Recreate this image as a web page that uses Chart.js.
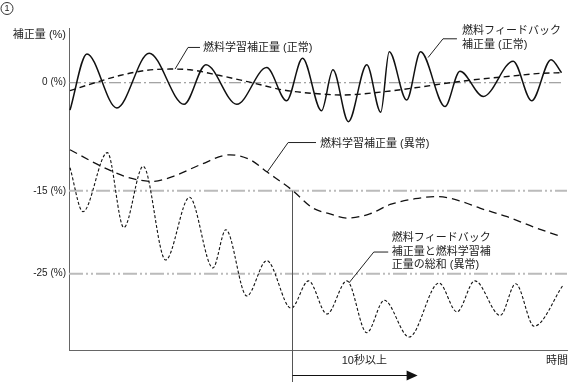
<!DOCTYPE html>
<html>
<head>
<meta charset="utf-8">
<script src="https://cdn.jsdelivr.net/npm/chart.js@4.4.1/dist/chart.umd.min.js"></script>
<style>
  html, body { margin: 0; padding: 0; background: #fff; }
  #wrap { width: 569px; height: 383px; }
</style>
</head>
<body>
<div id="wrap"><canvas id="chart"></canvas></div>
<script>
/* --------------- Data (time = schematic units, value = schematic %) --------------- */
// 燃料フィードバック補正量 (正常)
const fbNormalT = [0.2, 3.6, 9.6, 16.1, 23.1, 27.5, 33.7, 39.7, 43.7, 46.9, 50.7, 53.0, 56.1, 59.8, 62.6, 64.3, 67.8, 70.6, 75.5, 78.5, 83.2, 89.2, 92.9, 96.8, 98.9];
const fbNormalV = [-3.8, 4.0, -3.5, 4.1, -3.0, 2.5, -3.0, 2.1, -2.5, 3.4, -3.9, 1.8, -5.4, 2.5, -4.1, 4.3, -2.4, 4.3, -3.3, 1.6, -1.9, 3.0, -2.5, 3.2, 1.4];

// 燃料学習補正量 (正常)
const learnNormalT = [0.2, 5.2, 10.2, 15.3, 20.3, 24.3, 30.3, 36.8, 43.0, 49.4, 55.0, 62.5, 69.5, 76.5, 82.5, 88.6, 94.6, 99.0];
const learnNormalV = [-1.1, 0, 1.0, 1.7, 1.9, 1.8, 1.0, 0, -1.0, -1.5, -1.7, -1.3, -0.7, 0, 0.5, 0.9, 1.3, 1.4];

// 燃料学習補正量 (異常)
const learnAbnT = [0.2, 6.2, 11.7, 16.7, 21.3, 26.3, 32.3, 36.4, 39.8, 44.8, 49.0, 52.4, 55.8, 60.4, 64.5, 69.5, 73.9, 78.5, 82.5, 88.0, 93.2, 99.0];
const learnAbnV = [-9.3, -11.5, -13.1, -13.7, -12.9, -11.4, -10.0, -10.7, -12.4, -14.9, -17.4, -18.2, -18.8, -18.2, -16.9, -16.1, -15.8, -16.4, -17.4, -18.6, -20.0, -21.4];

// 燃料フィードバック補正量と燃料学習補正量の総和 (異常)
const sumAbnT = [0.2, 2.8, 7.7, 11.0, 14.9, 19.4, 24.2, 28.9, 31.5, 35.7, 39.7, 44.6, 48.1, 51.8, 55.8, 59.8, 63.3, 68.3, 74.3, 77.9, 81.5, 86.6, 89.7, 93.4, 99.2];
const sumAbnV = [-11.8, -17.9, -9.7, -20.1, -11.6, -24.6, -15.9, -25.7, -20.4, -29.6, -24.7, -31.3, -27.5, -32.1, -27.5, -34.7, -30.2, -35.3, -27.8, -31.8, -27.5, -32.3, -27.9, -33.8, -28.1];

// reference levels (the figure is schematic, -25 sits a bit lower than a linear scale)
const refLevels = [0, -15, -26.5];
const refLabels = ["0 (%)", "-15 (%)", "-25 (%)"];

const markerTime = 44.8;   // start of the "10秒以上" span
const arrowEndTime = 70;

const JP = '"Liberation Sans", "Noto Sans CJK JP", sans-serif';

const toPoints = (t, v) => t.map((x, i) => ({ x: x, y: v[i] }));

/* --------------- Labels with leader lines --------------------- */
const leaders = [
  { pts: [[21.3, 1.9], [23.9, 4.9], [26.3, 4.9]], at: [26.9, 4.86], lines: ["燃料学習補正量 (正常)"] },
  { pts: [[72.1, 3.5], [75.1, 6.1], [77.9, 6.1]], at: [78.9, 7.13], lines: ["燃料フィードバック", "補正量 (正常)"] },
  { pts: [[39.8, -12.4], [44.0, -8.3], [49.6, -8.3]], at: [50.4, -8.47], lines: ["燃料学習補正量 (異常)"] },
  { pts: [[56.2, -27.8], [61.2, -23.5], [64.1, -23.5]], at: [64.8, -21.57], lines: ["燃料フィードバック", "補正量と燃料学習補", "正量の総和 (異常)"] },
];

const notes = {
  id: "notes",
  afterDatasetsDraw(chart) {
    const ctx = chart.ctx;
    const xs = chart.scales.x, ys = chart.scales.y;
    const X = (v) => xs.getPixelForValue(v);
    const Y = (v) => ys.getPixelForValue(v);
    const area = chart.chartArea;
    ctx.save();

    // leader lines + texts
    ctx.strokeStyle = "#222";
    ctx.lineWidth = 1;
    ctx.setLineDash([]);
    ctx.fillStyle = "#222";
    ctx.font = "11px " + JP;
    ctx.textBaseline = "middle";
    ctx.textAlign = "left";
    leaders.forEach((l) => {
      ctx.beginPath();
      l.pts.forEach(([x, y], i) => (i ? ctx.lineTo(X(x), Y(y)) : ctx.moveTo(X(x), Y(y))));
      ctx.stroke();
      l.lines.forEach((s, i) => ctx.fillText(s, X(l.at[0]), Y(l.at[1]) + i * 13.4));
    });

    // marker line & arrow for 10秒以上
    const mx = Math.round(X(markerTime)) + 0.5;
    ctx.strokeStyle = "#555";
    ctx.beginPath();
    ctx.moveTo(mx, Y(-15));
    ctx.lineTo(mx, area.bottom + 32);
    ctx.stroke();
    const ay = area.bottom + 25.5;
    const ax = X(arrowEndTime);
    ctx.strokeStyle = "#111";
    ctx.beginPath();
    ctx.moveTo(mx, ay);
    ctx.lineTo(ax - 8, ay);
    ctx.stroke();
    ctx.fillStyle = "#111";
    ctx.beginPath();
    ctx.moveTo(ax, ay);
    ctx.lineTo(ax - 11, ay - 5);
    ctx.lineTo(ax - 11, ay + 5);
    ctx.closePath();
    ctx.fill();

    ctx.fillStyle = "#222";
    ctx.textAlign = "center";
    ctx.fillText("10秒以上", X(59.3), area.bottom + 11);
    ctx.textAlign = "right";
    ctx.fillText("時間", area.right + 1, area.bottom + 11);
    ctx.fillText("補正量 (%)", area.left - 3, area.top + 7);

    // circled number
    ctx.strokeStyle = "#333";
    ctx.beginPath();
    ctx.arc(7, 8.5, 6, 0, Math.PI * 2);
    ctx.stroke();
    ctx.textAlign = "center";
    ctx.font = "9px " + JP;
    ctx.fillText("1", 7, 9);
    ctx.restore();
  },
};

/* --------------- Chart --------------------- */
const refColors = ["#888", "#bbb", "#bbb"];
const refWidths = [1, 2, 2];
const refDashes = [[12, 3, 2, 3], [14, 3, 2, 3, 2, 3], [14, 3, 2, 3, 2, 3]];

const refSets = refLevels.map((v, i) => ({
  data: [{ x: 0, y: v }, { x: i === 0 ? 99 : 100, y: v }],
  borderColor: refColors[i],
  borderWidth: refWidths[i],
  borderDash: refDashes[i],
  pointRadius: 0,
  order: 10,
}));

const curve = (t, v, width, dash) => ({
  data: toPoints(t, v),
  borderColor: "#111",
  borderWidth: width,
  borderDash: dash,
  pointRadius: 0,
  cubicInterpolationMode: "monotone",
  order: 0,
});

new Chart(document.getElementById("chart"), {
  type: "line",
  plugins: [notes],
  data: {
    datasets: [
      ...refSets,
      curve(fbNormalT, fbNormalV, 1.5, []),
      curve(learnNormalT, learnNormalV, 1.4, [6, 4]),
      curve(learnAbnT, learnAbnV, 1.3, [8, 5]),
      curve(sumAbnT, sumAbnV, 1.1, [3, 2]),
    ],
  },
  options: {
    responsive: true,
    maintainAspectRatio: false,
    animation: false,
    layout: { padding: { top: 28, right: 2, bottom: 0, left: 0 } },
    plugins: { legend: { display: false }, tooltip: { enabled: false } },
    scales: {
      x: {
        type: "linear",
        min: 0,
        max: 100,
        grid: { display: false, drawTicks: false },
        border: { display: true, color: "#666", width: 1 },
        ticks: { display: false },
        afterFit: (s) => { s.height = 33; },
      },
      y: {
        min: -37.1,
        max: 7.6,
        grid: { display: false, drawTicks: false },
        border: { display: true, color: "#666", width: 1 },
        afterBuildTicks: (s) => { s.ticks = refLevels.map((v) => ({ value: v })); },
        ticks: {
          padding: 3,
          color: "#222",
          font: { family: "Liberation Sans", size: 10 },
          callback: (v, i) => refLabels[i],
        },
        afterFit: (s) => { s.width = 69; },
      },
    },
  },
});
</script>
</body>
</html>
